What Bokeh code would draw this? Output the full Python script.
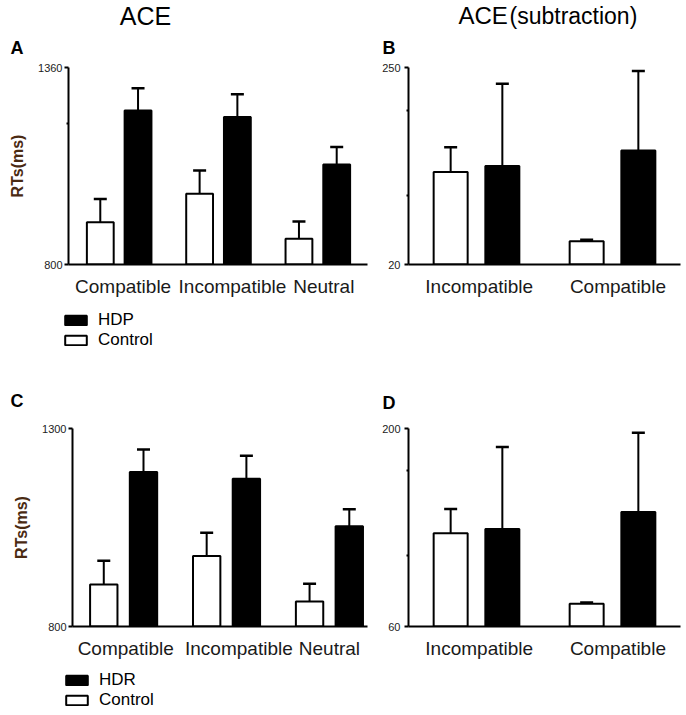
import numpy as np
from bokeh.plotting import figure
from bokeh.models import Range1d, FixedTicker, Label, Legend, LegendItem
from bokeh.layouts import row, column
from bokeh.embed import file_html
from bokeh.resources import INLINE

FONT = "Liberation Sans"

# ---------------- data ----------------
# Panel A : ACE, HDP vs Control
a_categories = ["Compatible", "Incompatible", "Neutral"]
a_control = [920, 1001, 873]
a_control_err = [986, 1067, 922]
a_hdp = [1238, 1219, 1084]
a_hdp_err = [1301, 1284, 1134]
a_yticks = [800, 1360]
a_yminor = [1200]

# Panel B : ACE (subtraction), HDP vs Control
b_categories = ["Incompatible", "Compatible"]
b_control = [128, 47]
b_control_err = [157, 49]
b_hdp = [135, 153]
b_hdp_err = [231, 246]
b_yticks = [20, 250]
b_yminor = [100, 200]

# Panel C : ACE, HDR vs Control
c_categories = ["Compatible", "Incompatible", "Neutral"]
c_control = [906, 978, 863]
c_control_err = [966, 1037, 908]
c_hdr = [1190, 1173, 1053]
c_hdr_err = [1247, 1231, 1096]
c_yticks = [800, 1300]
c_yminor = []

# Panel D : ACE (subtraction), HDR vs Control
d_categories = ["Incompatible", "Compatible"]
d_control = [126, 76]
d_control_err = [143, 77]
d_hdr = [129, 141]
d_hdr_err = [187, 197]
d_yticks = [60, 200]
d_yminor = [110, 170]

legend_a = ["HDP", "Control"]
legend_c = ["HDR", "Control"]


def make_panel(cats, ctrl, ctrl_err, grp, grp_err, yticks, yminor,
               xr, label_pos, off, bw, width, height, bl, br, bt, bb,
               ylabel=None, tick_standoff=2):
    y0, y1 = yticks[0], yticks[-1]
    p = figure(width=width, height=height, title=None,
               x_range=Range1d(*xr), y_range=Range1d(y0, y1),
               output_backend="svg", toolbar_location=None,
               min_border_left=bl, min_border_right=br,
               min_border_top=bt, min_border_bottom=bb)
    p.outline_line_color = None
    p.xgrid.visible = False
    p.ygrid.visible = False
    p.background_fill_color = "white"
    p.border_fill_color = "white"

    idx = np.arange(len(cats))
    xc = idx - off
    xg = idx + off

    # error bars (upper only)
    p.segment(x0=xc, y0=ctrl, x1=xc, y1=ctrl_err, line_color="black", line_width=2)
    p.segment(x0=xg, y0=grp, x1=xg, y1=grp_err, line_color="black", line_width=2)
    p.scatter(x=xc, y=ctrl_err, marker="dash", size=13, line_width=2.5, line_color="black")
    p.scatter(x=xg, y=grp_err, marker="dash", size=13, line_width=2.5, line_color="black")

    p.vbar(x=xc, top=ctrl, bottom=y0, width=bw, fill_color="white",
           line_color="black", line_width=2)
    p.vbar(x=xg, top=grp, bottom=y0, width=bw, fill_color="black",
           line_color="black", line_width=2)

    # x axis
    xa = p.xaxis[0]
    xa.ticker = FixedTicker(ticks=label_pos)
    xa.major_label_overrides = {pos: name for pos, name in zip(label_pos, cats)}
    xa.major_tick_line_color = None
    xa.minor_tick_line_color = None
    xa.major_tick_out = 0
    xa.major_tick_in = 0
    xa.axis_line_width = 2
    xa.axis_line_color = "black"
    xa.major_label_text_font = FONT
    xa.major_label_text_font_size = "19px"
    xa.major_label_text_color = "#1a1a1a"
    xa.major_label_standoff = 11

    # y axis
    ya = p.yaxis[0]
    ya.ticker = FixedTicker(ticks=yticks, minor_ticks=yminor)
    ya.axis_line_width = 2
    ya.axis_line_color = "black"
    ya.major_tick_line_width = 2
    ya.major_tick_out = 4
    ya.major_tick_in = 0
    ya.minor_tick_out = 2
    ya.minor_tick_in = 0
    ya.minor_tick_line_width = 2
    ya.major_label_text_font = FONT
    ya.major_label_text_font_size = "11px"
    ya.major_label_text_color = "#222222"
    ya.major_label_standoff = tick_standoff
    if ylabel:
        ya.axis_label = ylabel
        ya.axis_label_text_font = FONT
        ya.axis_label_text_font_size = "16px"
        ya.axis_label_text_font_style = "bold"
        ya.axis_label_text_color = "#4a2a12"
        ya.axis_label_standoff = 9
    return p


def blank(width, height):
    s = figure(width=width, height=height, title=None,
               x_range=Range1d(0, 1), y_range=Range1d(0, 1),
               x_axis_type=None, y_axis_type=None,
               output_backend="svg", toolbar_location=None,
               min_border_left=0, min_border_right=0,
               min_border_top=0, min_border_bottom=0)
    s.outline_line_color = None
    s.grid.visible = False
    s.background_fill_color = "white"
    s.border_fill_color = "white"
    return s


def add_text(p, x, y, text, size_px, bold=False, align="left"):
    # y is the wanted baseline height above the strip bottom; Bokeh draws the
    # alphabetic baseline about 0.4 em lower, so compensate for it
    p.add_layout(Label(x=x, y=y + 0.4 * size_px, x_units="screen", y_units="screen",
                       text=text, text_font=FONT, text_font_size=f"{size_px}px",
                       text_font_style="bold" if bold else "normal",
                       text_align=align, text_baseline="alphabetic",
                       text_color="black"))


def legend_strip(width, height, names, first_values, loc):
    s = blank(width, height)
    # invisible proxies that only lend their style to the legend swatches
    rg = s.vbar(x=[0], top=[first_values[0]], width=0.1, fill_color="black",
                line_color="black", line_width=2, visible=False)
    rc = s.vbar(x=[0], top=[first_values[1]], width=0.1, fill_color="white",
                line_color="black", line_width=2, visible=False)
    lg = Legend(items=[LegendItem(label=names[0], renderers=[rg]),
                       LegendItem(label=names[1], renderers=[rc])],
                location=loc, glyph_width=27, glyph_height=12,
                label_text_font=FONT, label_text_font_size="17px",
                label_text_color="black", label_standoff=9,
                label_height=20, spacing=0, padding=0, margin=0,
                border_line_color=None, background_fill_alpha=0,
                click_policy="none")
    s.add_layout(lg)
    return s


W = 684

# ---------- header 1 ----------
h1 = blank(W, 57)
add_text(h1, 10, 2, "A", 18, bold=True)
add_text(h1, 145, 32, "ACE", 25, align="center")
add_text(h1, 382, 2, "B", 18, bold=True)
add_text(h1, 458, 32, "ACE", 24)
add_text(h1, 509, 32, "(subtraction)", 23)

# ---------- row 1 ----------
pa = make_panel(a_categories, a_control, a_control_err, a_hdp, a_hdp_err,
                a_yticks, a_yminor, (-0.51, 2.50), [0.04, 1.14, 2.06],
                0.19, 0.27, 378, 248, 68, 11, 10, 40, ylabel="RTs(ms)")
pb = make_panel(b_categories, b_control, b_control_err, b_hdp, b_hdp_err,
                b_yticks, b_yminor, (-0.5, 1.5), [0.02, 1.04],
                0.19, 0.25, W - 378, 248, 30, 4, 8, 41, tick_standoff=4)

# ---------- legend 1 ----------
l1 = legend_strip(W, 55, legend_a, [a_hdp[0], a_control[0]], (62, 10))

# ---------- header 2 ----------
h2 = blank(W, 55)
add_text(h2, 10, 7, "C", 18, bold=True)
add_text(h2, 382, 5, "D", 18, bold=True)

# ---------- row 2 ----------
pc = make_panel(c_categories, c_control, c_control_err, c_hdr, c_hdr_err,
                c_yticks, c_yminor, (-0.497, 2.37), [0.02, 1.12, 2.0],
                0.193, 0.266, 378, 250, 72, 11, 13, 39, ylabel="RTs(ms)")
pd_ = make_panel(d_categories, d_control, d_control_err, d_hdr, d_hdr_err,
                 d_yticks, d_yminor, (-0.5, 1.5), [0.02, 1.04],
                 0.19, 0.25, W - 378, 250, 30, 4, 11, 38, tick_standoff=4)

# ---------- legend 2 ----------
l2 = legend_strip(W, 47, legend_c, [c_hdr[0], c_control[0]], (63, 2))

layout = column(h1, row(pa, pb), l1, h2, row(pc, pd_), l2)

with open("out.html", "w") as f:
    f.write(file_html(layout, INLINE))
